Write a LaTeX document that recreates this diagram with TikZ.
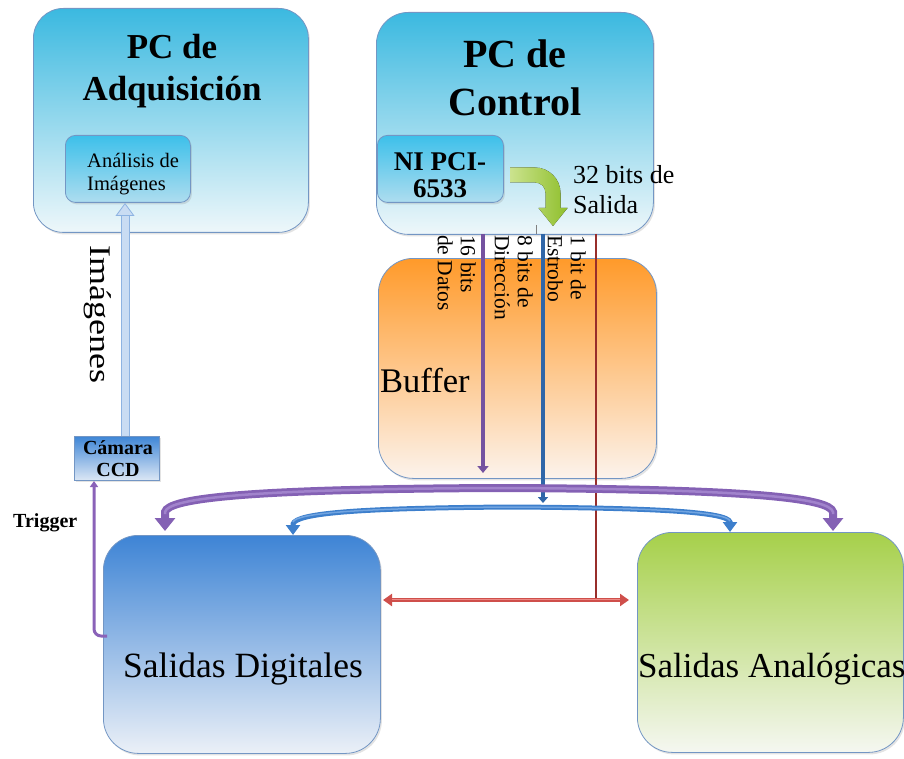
\documentclass[tikz,border=0pt]{standalone}
\usepackage{fontspec}
\setmainfont{Liberation Serif}
\newfontfamily\widefont[FakeStretch=1.2]{Liberation Serif}
\usetikzlibrary{arrows.meta,shadows}

\definecolor{edge}{HTML}{7396C4}
\definecolor{pctop}{HTML}{3BB9E0}
\definecolor{pcmid}{HTML}{6EC3DD}
\definecolor{pcbot}{HTML}{EEF7FA}
\definecolor{intop}{HTML}{3DC0EA}
\definecolor{inbot}{HTML}{AEDDEF}
\definecolor{buftop}{HTML}{FF9A2A}
\definecolor{bufmid}{HTML}{F8A04E}
\definecolor{bufbot}{HTML}{FCF3EC}
\definecolor{sdtop}{HTML}{3E84D5}
\definecolor{sdmid}{HTML}{538DD2}
\definecolor{sdbot}{HTML}{EBF0F7}
\definecolor{satop}{HTML}{A6D04A}
\definecolor{samid}{HTML}{ABCB68}
\definecolor{sabot}{HTML}{F5F7F1}
\definecolor{camtop}{HTML}{3F86D6}
\definecolor{cambot}{HTML}{DCE7F5}
\definecolor{busviolet}{HTML}{8461B4}
\definecolor{busvioletlt}{HTML}{A98CD2}
\definecolor{busblue}{HTML}{3D7FCC}
\definecolor{busbluelt}{HTML}{7FAEE6}
\definecolor{datviolet}{HTML}{7452A0}
\definecolor{strblue}{HTML}{2F66A8}
\definecolor{bitred}{HTML}{982E2B}
\definecolor{linkred}{HTML}{CF4F4B}
\definecolor{linkredlt}{HTML}{EC8A86}
\definecolor{imgedge}{HTML}{8DB3E2}
\definecolor{imgfill}{HTML}{C9DCF3}
\definecolor{greenlt}{HTML}{CBE38E}
\definecolor{greendk}{HTML}{8FBF2C}
\definecolor{trig}{HTML}{8A62B8}

\tikzset{
  box/.style={draw=edge, line width=0.8pt, inner sep=0pt, anchor=north west,
    drop shadow={opacity=0.22, shadow xshift=1.5pt, shadow yshift=-2pt}},
  pcbox/.style={box, rounded corners=30pt, top color=pctop, middle color=pcmid, bottom color=pcbot},
  innerbox/.style={box, rounded corners=10pt, top color=intop, bottom color=inbot},
  bufbox/.style={box, rounded corners=35pt, top color=buftop, middle color=bufmid, bottom color=bufbot},
  sdbox/.style={box, rounded corners=35pt, top color=sdtop, middle color=sdmid, bottom color=sdbot},
  sabox/.style={box, rounded corners=35pt, top color=satop, middle color=samid, bottom color=sabot},
  cambox/.style={box, top color=camtop, bottom color=cambot},
  lbl/.style={inner sep=0pt, text=black},
  vlbl/.style={lbl, rotate=-90, anchor=north west, align=left,
    font=\fontsize{21.5}{23}\selectfont},
  violetbus/.style={draw=busviolet, line width=8pt,
    {Triangle[width=20pt,length=13pt]}-{Triangle[width=20pt,length=13pt]}},
  bluebus/.style={draw=busblue, line width=5pt,
    {Triangle[width=14pt,length=10pt]}-{Triangle[width=14pt,length=10pt]}},
}

\begin{document}
\begin{tikzpicture}[x=1pt,y=-1pt]
\useasboundingbox (0,0) rectangle (904,759);

% ---- boxes ----
\node[pcbox, minimum width=275pt, minimum height=224pt] (acq) at (33,8) {};
\node[innerbox, minimum width=125pt, minimum height=67pt] (ana) at (65,135) {};
\node[pcbox, rounded corners=32pt, minimum width=277pt, minimum height=222pt] (ctrl) at (376,12) {};
\node[innerbox, minimum width=126pt, minimum height=67pt] (ni) at (377,135) {};
\node[bufbox, minimum width=278pt, minimum height=220pt] (buf) at (378,258) {};
\node[sdbox, minimum width=277pt, minimum height=218pt] (sd) at (103,535) {};
\node[sabox, minimum width=266pt, minimum height=220pt] (sa) at (637,532) {};
\node[cambox, minimum width=85pt, minimum height=44pt] (cam) at (74,436) {};

% ---- box texts ----
\node[lbl, anchor=north, align=center, font=\fontsize{35}{42}\selectfont\bfseries]
  (tAcq) at (172,34) {PC de\\Adquisición};
\node[lbl, anchor=north west, align=left, font=\fontsize{20.5}{23}\selectfont]
  (tAna) at (87,153) {Análisis de\\Imágenes};
\node[lbl, anchor=north, align=center, font=\fontsize{40}{48}\selectfont\bfseries]
  (tCtrl) at (515,40) {PC de\\Control};
\node[lbl, anchor=north, align=center, font=\fontsize{27}{27}\selectfont\bfseries]
  (tNi) at (440,152) {NI PCI-\\6533};
\node[lbl, anchor=base west, font=\fontsize{34.5}{40}\selectfont]
  (tBuf) at (380,392) {Buffer};
\node[lbl, anchor=base, font=\fontsize{35.5}{40}\selectfont]
  (tSd) at (243,677) {Salidas Digitales};
\node[lbl, anchor=base west, font=\fontsize{35}{40}\selectfont]
  (tSa) at (638,677) {Salidas Analógicas};
\node[lbl, anchor=north, align=center, font=\fontsize{20}{22}\selectfont\bfseries]
  (tCam) at (118,440) {Cámara\\CCD};

% ---- 32-bit output arrow ----
\fill[left color=greenlt, right color=greendk]
  (510,167.5) -- (535,167.5) .. controls (549,167.5) and (560.5,179) .. (560.5,193)
  -- (560.5,208) -- (567.5,208) -- (553,226) -- (538.5,208) -- (545.5,208)
  -- (545.5,193) .. controls (545.5,187) and (541,182.5) .. (535,182.5)
  -- (510,182.5) -- cycle;
\node[lbl, anchor=north west, align=left, font=\fontsize{26}{30}\selectfont]
  (tBits) at (573,165) {32 bits de\\Salida};
\draw[gray, line width=0.8pt] (536,225) -- (536,234);

% ---- signal lines from the control PC ----
\coordinate (datTop) at (483,234);
\coordinate (datEnd) at (483,473);
\coordinate (strTop) at (543,234);
\coordinate (strEnd) at (543,503);
\coordinate (bitTop) at (596,234);
\coordinate (bitEnd) at (596,600);
\draw[datviolet, line width=4.5pt, -{Triangle[width=11pt,length=7pt]}] (datTop) -- (datEnd);
\draw[strblue, line width=4.5pt, -{Triangle[width=10pt,length=6pt]}] (strTop) -- (strEnd);
\draw[bitred, line width=2pt] (bitTop) -- (bitEnd);

\node[vlbl] (tDat) at (476,235) {16 bits\\de Datos};
\node[vlbl] (tDir) at (533,235) {8 bits de\\Dirección};
\node[vlbl] (tStr) at (586,235) {1 bit de\\Estrobo};

% ---- buses to the output boards ----
\coordinate (vbL) at (165,531);
\coordinate (vbR) at (833,531);
\draw[violetbus] (vbL) -- (165,512) .. controls (168,498) and (250,489) .. (500,488)
  .. controls (750,489) and (830,498) .. (833,512) -- (vbR);
\draw[busvioletlt, line width=2.5pt, opacity=0.8]
  (165,514) -- (165,512) .. controls (168,498) and (250,489) .. (500,488)
  .. controls (750,489) and (830,498) .. (833,512) -- (833,514);

\coordinate (bbL) at (293,535);
\coordinate (bbR) at (730,532);
\draw[bluebus] (bbL) -- (293,524) .. controls (296,513) and (360,508) .. (512,507)
  .. controls (660,508) and (727,512) .. (730,522) -- (bbR);
\draw[busbluelt, line width=1.5pt, opacity=0.8]
  (293,522) .. controls (296,513) and (360,508) .. (512,507)
  .. controls (660,508) and (727,512) .. (730,521);

% ---- link between the two output boards ----
\coordinate (lnkL) at (383,600);
\coordinate (lnkR) at (629,600);
\draw[linkred, line width=4.5pt,
  {Triangle[width=12pt,length=9pt]}-{Triangle[width=12pt,length=9pt]}] (lnkL) -- (lnkR);
\draw[linkredlt, line width=1.5pt] (392,599.5) -- (620,599.5);

% ---- image path: camera to analysis ----
\coordinate (imgBot) at (125,436);
\coordinate (imgTop) at (125,203);
\draw[imgedge, line width=9pt,
  -{Triangle[width=19pt,length=13pt,line width=0.8pt,fill=imgfill]}] (imgBot) -- (imgTop);
\draw[imgfill, line width=7pt] (125,435.5) -- (125,216.5);
\node[lbl, rotate=-90, anchor=base west, font=\widefont\fontsize{30}{34}\selectfont]
  (tImg) at (90,245) {Imágenes};

% ---- trigger from the digital outputs to the camera ----
\coordinate (trgS) at (107,636);
\coordinate (trgE) at (94,481);
\draw[trig, line width=3pt, rounded corners=7pt, -{Triangle[width=8pt,length=6pt]}]
  (trgS) -- (94,636) -- (trgE);
\node[lbl, anchor=base west, font=\fontsize{20}{22}\selectfont\bfseries]
  (tTrig) at (13,527) {Trigger};
\end{tikzpicture}
\end{document}
